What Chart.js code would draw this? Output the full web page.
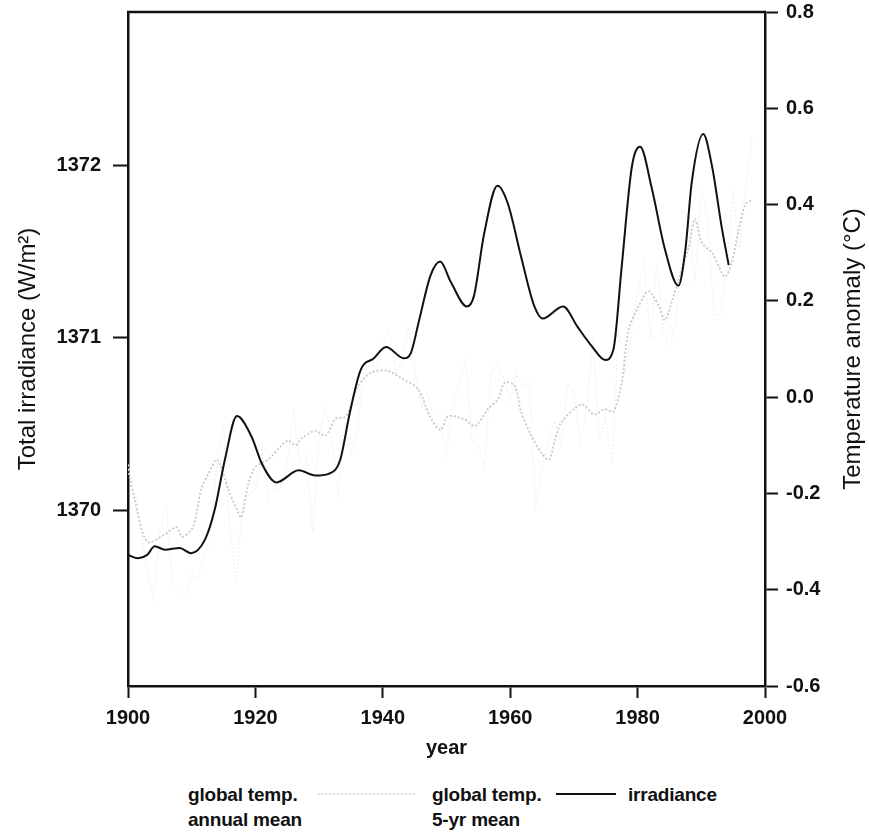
<!DOCTYPE html>
<html>
<head>
<meta charset="utf-8">
<script src="https://cdn.jsdelivr.net/npm/chart.js@4.4.0/dist/chart.umd.min.js"></script>
<style>
  html, body { margin: 0; padding: 0; background: #fff; }
  #wrap { position: relative; width: 869px; height: 839px; }
  #c { position: absolute; left: 0; top: 0; }
  .lg { position: absolute; font-family: "Liberation Sans", Arial, sans-serif; font-weight: bold; font-size: 19px; line-height: 25px; color: #111; letter-spacing: -0.2px; }
  .sym { position: absolute; height: 0; }
</style>
</head>
<body>
<div id="wrap">
  <canvas id="c" width="869" height="770"></canvas>
  <div class="lg" style="left:188px; top:782px;">global temp.<br>annual mean</div>
  <div class="sym" style="left:318px; top:793px; width:97px; border-top:2px dotted #dedede;"></div>
  <div class="lg" style="left:432px; top:782px;">global temp.<br>5-yr mean</div>
  <div class="sym" style="left:556px; top:793px; width:60px; border-top:2px solid #111;"></div>
  <div class="lg" style="left:628px; top:782px;">irradiance</div>
</div>
<script>
// ---- data ----
const irrYears = [1900, 1901.6, 1903, 1904.2, 1905.8, 1908.1, 1909.9, 1912.1, 1913.6, 1915.2, 1917.1, 1919.4, 1921, 1923.3, 1926.8, 1929.4, 1931.5, 1933.3, 1934.8, 1936.5, 1938.6, 1940.5, 1943.3, 1944.4, 1945.7, 1947.5, 1949, 1950.7, 1953.2, 1954.3, 1955.9, 1958, 1959.6, 1961.7, 1963.8, 1965.1, 1968.3, 1970.6, 1972.8, 1974.9, 1976.2, 1977.5, 1979.1, 1980.4, 1982.2, 1984.3, 1986.4, 1987.5, 1988.5, 1990.3, 1991.7, 1993.2, 1994.3];
const irradiance = [1369.74, 1369.72, 1369.74, 1369.79, 1369.77, 1369.78, 1369.75, 1369.83, 1370.00, 1370.29, 1370.545, 1370.425, 1370.27, 1370.16, 1370.23, 1370.20, 1370.21, 1370.29, 1370.56, 1370.81, 1370.88, 1370.945, 1370.88, 1370.91, 1371.10, 1371.36, 1371.44, 1371.32, 1371.18, 1371.24, 1371.60, 1371.88, 1371.78, 1371.47, 1371.18, 1371.11, 1371.18, 1371.06, 1370.95, 1370.87, 1370.93, 1371.41, 1371.99, 1372.106, 1371.87, 1371.51, 1371.30, 1371.51, 1371.90, 1372.18, 1371.99, 1371.64, 1371.42];

const t5Years = [1900, 1901, 1903, 1905.8, 1907.6, 1908.5, 1910.2, 1911.5, 1912.6, 1914, 1915.7, 1917.3, 1917.8, 1918.9, 1920, 1922, 1924.1, 1925.2, 1926.3, 1927.3, 1929.4, 1931, 1932.6, 1934.2, 1936, 1938, 1940.7, 1942.8, 1945.5, 1947.6, 1949.1, 1950.2, 1952.8, 1954.5, 1956.5, 1958.1, 1959.1, 1960.7, 1961.7, 1963.3, 1964.9, 1966.1, 1967, 1968, 1971.2, 1973.2, 1974.8, 1976.2, 1977.5, 1978.6, 1980.2, 1981.7, 1983.3, 1984.3, 1985.4, 1986.6, 1988, 1989, 1990.1, 1991.7, 1993.7, 1994.8, 1995.9, 1996.9, 1998];
const temp5yr = [-0.15, -0.21, -0.30, -0.285, -0.27, -0.29, -0.27, -0.19, -0.16, -0.13, -0.19, -0.24, -0.25, -0.18, -0.145, -0.13, -0.10, -0.09, -0.10, -0.085, -0.07, -0.08, -0.045, -0.04, 0.02, 0.05, 0.055, 0.04, 0.017, -0.046, -0.068, -0.04, -0.046, -0.06, -0.025, -0.004, 0.03, 0.024, -0.03, -0.08, -0.116, -0.13, -0.09, -0.053, -0.015, -0.036, -0.025, -0.03, 0.03, 0.14, 0.19, 0.22, 0.19, 0.16, 0.20, 0.25, 0.31, 0.37, 0.32, 0.30, 0.25, 0.28, 0.35, 0.40, 0.41];

const annYears = [1900,1901,1902,1903,1904,1905,1906,1907,1908,1909,1910,1911,1912,1913,1914,1915,1916,1917,1918,1919,1920,1921,1922,1923,1924,1925,1926,1927,1928,1929,1930,1931,1932,1933,1934,1935,1936,1937,1938,1939,1940,1941,1942,1943,1944,1945,1946,1947,1948,1949,1950,1951,1952,1953,1954,1955,1956,1957,1958,1959,1960,1961,1962,1963,1964,1965,1966,1967,1968,1969,1970,1971,1972,1973,1974,1975,1976,1977,1978,1979,1980,1981,1982,1983,1984,1985,1986,1987,1988,1989,1990,1991,1992,1993,1994,1995,1996,1997,1998];
const tempAnnual = [-0.14,-0.19,-0.28,-0.36,-0.42,-0.28,-0.22,-0.39,-0.40,-0.41,-0.37,-0.38,-0.32,-0.30,-0.12,-0.06,-0.28,-0.38,-0.22,-0.20,-0.19,-0.11,-0.21,-0.19,-0.19,-0.14,-0.03,-0.14,-0.12,-0.28,-0.08,-0.02,-0.08,-0.21,-0.05,-0.12,-0.07,0.05,0.07,0.06,0.11,0.14,0.05,0.07,0.15,0.06,-0.02,0.01,-0.05,-0.06,-0.12,-0.02,0.03,0.08,-0.09,-0.10,-0.15,0.05,0.07,0.04,-0.01,0.05,0.02,0.03,-0.23,-0.14,-0.09,-0.05,-0.10,0.03,0.01,-0.10,-0.02,0.12,-0.09,-0.04,-0.14,0.14,0.05,0.13,0.22,0.28,0.12,0.28,0.14,0.10,0.16,0.30,0.36,0.24,0.43,0.37,0.17,0.17,0.27,0.42,0.31,0.44,0.54];

const xTicks = [1900, 1920, 1940, 1960, 1980, 2000];
const irrTicks = [1370, 1371, 1372];
const tempTicks = [-0.6, -0.4, -0.2, 0.0, 0.2, 0.4, 0.6, 0.8];
const rightTitle = 'Temperature anomaly (°C)';

const pts = (xs, ys) => xs.map((x, i) => ({ x: x, y: ys[i] }));

const tickFont = { family: "'Liberation Sans', Arial, sans-serif", weight: 'bold', size: 20 };
const titleFont = { family: "'Liberation Sans', Arial, sans-serif", size: 24 };

const frame = {
  id: 'frame',
  afterDraw(chart) {
    const { ctx, chartArea: a } = chart;
    ctx.save();
    ctx.strokeStyle = '#111';
    ctx.lineWidth = 2.5;
    ctx.beginPath();
    ctx.moveTo(a.left - 1, a.top);
    ctx.lineTo(a.right + 1, a.top);
    ctx.stroke();
    // right axis title, reading bottom-to-top like the left one
    ctx.translate(853, (a.top + a.bottom) / 2);
    ctx.rotate(-Math.PI / 2);
    ctx.fillStyle = '#111';
    ctx.font = "24px 'Liberation Sans', Arial, sans-serif";
    ctx.textAlign = 'center';
    ctx.textBaseline = 'middle';
    ctx.fillText(rightTitle, 0, 0);
    ctx.restore();
  }
};

const noPad = s => { s.paddingTop = 0; s.paddingBottom = 0; };

new Chart(document.getElementById('c'), {
  type: 'line',
  data: {
    datasets: [
      { label: 'irradiance', data: pts(irrYears, irradiance), yAxisID: 'yI', borderColor: '#111', borderWidth: 2, pointRadius: 0, cubicInterpolationMode: 'monotone', order: 0 },
      { label: 'global temp. 5-yr mean', data: pts(t5Years, temp5yr), yAxisID: 'yT', borderColor: '#c8c8c8', borderWidth: 1.8, borderDash: [2, 2], pointRadius: 0, tension: 0.3, order: 1 },
      { label: 'global temp. annual mean', data: pts(annYears, tempAnnual), yAxisID: 'yT', borderColor: '#f3f3f3', borderWidth: 1.5, borderDash: [2, 2], pointRadius: 0, tension: 0, order: 2 }
    ]
  },
  options: {
    responsive: false,
    animation: false,
    layout: { padding: { top: 12, left: 0, right: 0, bottom: 0 } },
    plugins: { legend: { display: false }, tooltip: { enabled: false } },
    scales: {
      x: {
        type: 'linear', position: 'bottom', min: 1900, max: 2000,
        afterBuildTicks: s => { s.ticks = xTicks.map(v => ({ value: v })); },
        afterFit: s => { s.height = 84; },
        ticks: { font: tickFont, color: '#111', padding: 8, callback: v => String(v) },
        grid: { drawOnChartArea: false, tickLength: 12, tickWidth: 2, color: '#111' },
        border: { display: true, color: '#111', width: 2.5 },
        title: { display: true, text: 'year', font: { family: "'Liberation Sans', Arial, sans-serif", weight: 'bold', size: 20 }, color: '#111', padding: { top: 2, bottom: 10 } }
      },
      yI: {
        type: 'linear', position: 'left', min: 1368.98, max: 1372.887,
        afterBuildTicks: s => { s.ticks = irrTicks.map(v => ({ value: v })); },
        afterFit: s => { s.width = 128; noPad(s); },
        ticks: { font: tickFont, color: '#111', padding: 12, callback: v => String(v) },
        grid: { drawOnChartArea: false, tickLength: 15, tickWidth: 2, color: '#111' },
        border: { display: true, color: '#111', width: 2.5 },
        title: { display: true, text: 'Total irradiance (W/m²)', font: titleFont, color: '#111', padding: { top: 14, bottom: 0 } }
      },
      yT: {
        type: 'linear', position: 'right', min: -0.6, max: 0.8,
        afterBuildTicks: s => { s.ticks = tempTicks.map(v => ({ value: v })); },
        afterFit: s => { s.width = 104; noPad(s); },
        ticks: { font: tickFont, color: '#111', padding: 8, callback: v => Number(v).toFixed(1) },
        grid: { drawOnChartArea: false, tickLength: 13, tickWidth: 2, color: '#111' },
        border: { display: true, color: '#111', width: 2.5 },
        title: { display: false }
      }
    }
  },
  plugins: [frame]
});
</script>
</body>
</html>
